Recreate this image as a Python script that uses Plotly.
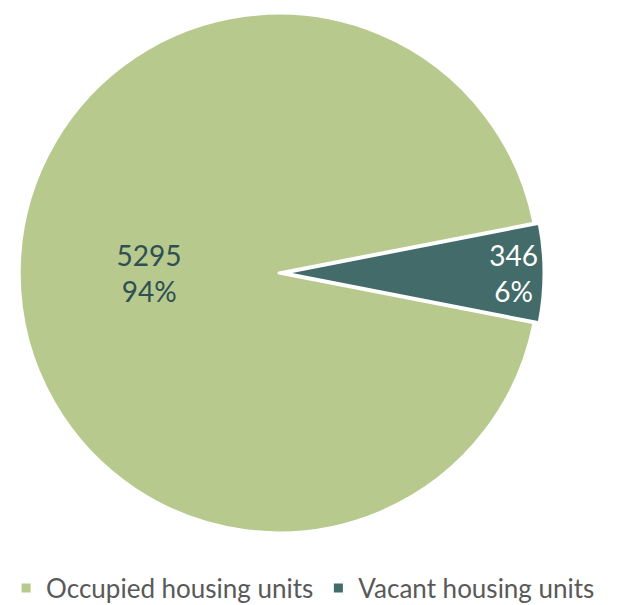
import plotly.graph_objects as go

labels = ["Occupied housing units", "Vacant housing units"]
values = [5295, 346]
colors = ["#b7c98c", "#426b69"]
text_colors = ["#2f4f55", "#ffffff"]
pulls = [0, 0.02]

share_vacant = values[1] / sum(values) * 360
rotation = 90 + share_vacant / 2

fig = go.Figure(go.Pie(
    labels=labels,
    values=values,
    sort=False,
    direction="clockwise",
    rotation=rotation,
    pull=pulls,
    marker=dict(colors=colors, line=dict(color="white", width=3)),
    texttemplate="%{value}<br>%{percent:.0%}",
    textposition="inside",
    insidetextorientation="horizontal",
    insidetextfont=dict(color=text_colors, size=28, family="Lato"),
    domain=dict(x=[0.0097, 0.8645], y=[0, 1]),
))

fig.update_layout(
    width=620, height=605,
    margin=dict(l=0, r=0, t=0, b=75),
    paper_bgcolor="white",
    font=dict(family="Lato", size=26, color="#595959"),
    showlegend=True,
    legend=dict(orientation="h", x=0.476, xanchor="center", xref="container",
                y=0.0413, yanchor="middle", yref="container",
                font=dict(size=26, color="#595959")),
)

fig.write_html("out.html")
